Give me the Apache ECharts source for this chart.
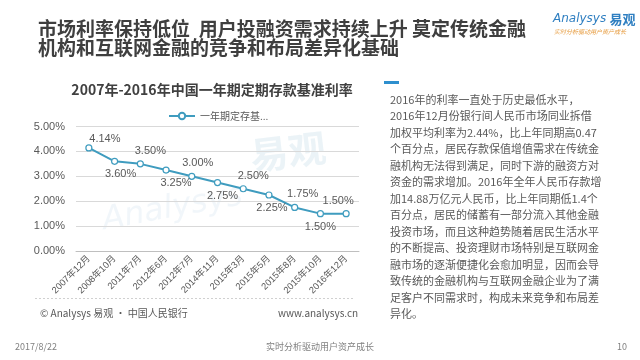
<!DOCTYPE html>
<html><head><meta charset="utf-8">
<script src="https://cdn.jsdelivr.net/npm/echarts@6/dist/echarts.min.js"></script>
<style>html,body{margin:0;padding:0;background:#fff}#c{width:640px;height:360px}</style>
</head><body><div id="c"></div>
<script>
// ---- data ----
const categories = ['2007年12月','2008年10月','2011年7月','2012年6月','2012年7月','2014年11月','2015年3月','2015年5月','2015年8月','2015年10月','2016年12月'];
const rates = [4.14, 3.60, 3.50, 3.25, 3.00, 2.75, 2.50, 2.25, 1.75, 1.50, 1.50];
const yMin = 0, yMax = 5, yStep = 1;
const seriesName = '一年期定存基准利率';
const pageTitle = '市场利率保持低位  用户投融资需求持续上升 莫定传统金融\n机构和互联网金融的竞争和布局差异化基础';
const chartTitle = '2007年-2016年中国一年期定期存款基准利率';
const paragraph = [
  '2016年的利率一直处于历史最低水平，',
  '2016年12月份银行间人民币市场同业拆借',
  '加权平均利率为2.44%，比上年同期高0.47',
  '个百分点，居民存款保值增值需求在传统金',
  '融机构无法得到满足，同时下游的融资方对',
  '资金的需求增加。2016年全年人民币存款增',
  '加14.88万亿元人民币，比上年同期低1.4个',
  '百分点，居民的储蓄有一部分流入其他金融',
  '投资市场，而且这种趋势随着居民生活水平',
  '的不断提高、投资理财市场特别是互联网金',
  '融市场的逐渐便捷化会愈加明显，因而会导',
  '致传统的金融机构与互联网金融企业为了满',
  '足客户不同需求时，构成未来竞争和布局差',
  '异化。'
];
const sourceText = '© Analysys 易观 · 中国人民银行';
const siteText = 'www.analysys.cn';
const dateText = '2017/8/22';
const sloganText = '实时分析驱动用户资产成长';
const pageNo = '10';

// ---- styles ----
const labelOffsets = [[16,4],[6,0],[10,0],[10,0],[6,0],[5,0],[10,0],[3,0],[8,0],[0,0],[-8,0]];
const CJK = '"Noto Sans CJK SC", sans-serif';
const NUM = '"Liberation Sans", "Noto Sans CJK SC", sans-serif';
const lineColor = '#3f9cbf';

const chart = echarts.init(document.getElementById('c'), null, {renderer:'canvas'});
const seriesData = rates.map((v, i) => ({
  value: v,
  label: { position: i % 2 === 0 ? 'top' : 'bottom', offset: labelOffsets[i] }
}));

chart.setOption({
  animation: false,
  backgroundColor: '#fff',
  grid: { left: 76, right: 281, top: 126.5, bottom: 109, containLabel: false },
  legend: {
    data: [seriesName], left: 163, top: 106, itemWidth: 26, itemHeight: 8, itemGap: 4,
    textStyle: { fontFamily: CJK, fontSize: 10, color: '#595959', width: 70, overflow: 'truncate', ellipsis: '...' }
  },
  xAxis: {
    type: 'category', data: categories, boundaryGap: true,
    axisLine: { lineStyle: { color: '#bfbfbf' } },
    axisTick: { show: false },
    axisLabel: { rotate: 45, fontFamily: NUM, fontSize: 9.3, color: '#595959', interval: 0, margin: 6 }
  },
  yAxis: {
    type: 'value', min: yMin, max: yMax, interval: yStep,
    axisLine: { show: false }, axisTick: { show: false },
    splitLine: { lineStyle: { color: '#d9d9d9' } },
    axisLabel: { formatter: v => v.toFixed(2) + '%', fontFamily: NUM, fontSize: 11, color: '#595959', margin: 11 }
  },
  series: [{
    name: seriesName, type: 'line', data: seriesData,
    symbol: 'circle', symbolSize: 6, showSymbol: true,
    itemStyle: { color: '#fff', borderColor: lineColor, borderWidth: 1.2 },
    lineStyle: { color: lineColor, width: 2 },
    label: { show: true, distance: 4, formatter: p => p.value.toFixed(2) + '%', fontFamily: NUM, fontSize: 11, color: '#595959' },
    z: 5
  }],
  graphic: [
    // watermark
    { type: 'text', left: 248, top: 128, rotation: 0.12, z: 0, silent: true,
      style: { text: '易观', font: 'bold 38px "Noto Sans CJK SC"', fill: 'rgba(190,215,230,0.3)' } },
    { type: 'text', left: 100, top: 180, rotation: 0.18, z: 0, silent: true,
      style: { text: 'Analysys', font: 'italic 32px "DejaVu Sans"', fill: 'rgba(190,215,230,0.22)' } },
    // page title
    { type: 'text', x: 38, y: 19, style: { text: pageTitle, font: 'bold 19px ' + CJK, fill: '#3f3f3f', lineHeight: 19, verticalAlign: 'top' } },
    // logo
    { type: 'text', x: 553, y: 19, style: { text: '{a|Analysys} {b|易观}', verticalAlign: 'middle',
      rich: { a: { font: 'italic 12px "DejaVu Sans"', fill: '#2f7fc1' }, b: { font: 'bold 13px ' + CJK, fill: '#2f7fc1' } } } },
    { type: 'text', x: 554, y: 32, style: { text: sloganText, font: 'italic 6px ' + CJK, fill: '#e69a3c', verticalAlign: 'middle' } },
    // chart title
    { type: 'text', x: 212, y: 90, style: { text: chartTitle, font: 'bold 14px ' + CJK, fill: '#404040', align: 'center', verticalAlign: 'middle' } },
    // separator
    { type: 'line', shape: { x1: 35, y1: 298.5, x2: 355, y2: 298.5 }, style: { stroke: '#d0d0d0', lineWidth: 1, lineDash: [2, 2] } },
    // sources
    { type: 'text', x: 40, y: 313, style: { text: sourceText, font: '10px ' + CJK, fill: '#595959', verticalAlign: 'middle' } },
    { type: 'text', x: 278, y: 313, style: { text: siteText, font: '10px ' + CJK, fill: '#595959', verticalAlign: 'middle' } },
    // right text block
    { type: 'rect', shape: { x: 384, y: 81, width: 15, height: 3 }, style: { fill: '#2e8fce' } },
    { type: 'text', x: 390, y: 91.5, style: { text: paragraph.join('\n'), font: '11px ' + CJK, fill: '#595959', lineHeight: 16.5, verticalAlign: 'top' } },
    // bottom footer
    { type: 'text', x: 15, y: 347, style: { text: dateText, font: '9px ' + CJK, fill: '#808080', verticalAlign: 'middle' } },
    { type: 'text', x: 320, y: 347, style: { text: sloganText, font: '9px ' + CJK, fill: '#808080', align: 'center', verticalAlign: 'middle' } },
    { type: 'text', x: 627, y: 347, style: { text: pageNo, font: '9px ' + CJK, fill: '#808080', align: 'right', verticalAlign: 'middle' } }
  ]
});
</script></body></html>
